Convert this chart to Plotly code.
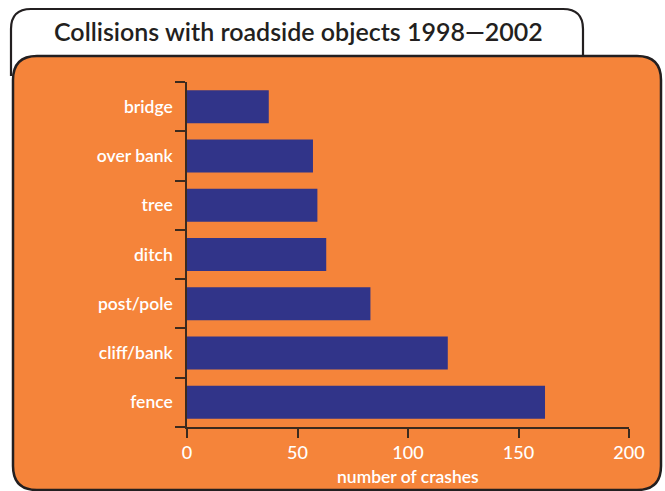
import plotly.graph_objects as go

# Crash counts by roadside object, 1998-2002
objects = ["fence", "cliff/bank", "post/pole", "ditch", "tree", "over bank", "bridge"]
crashes = [162, 118, 83, 63, 59, 57, 37]
x_ticks = [0, 50, 100, 150, 200]

W, H = 665, 491
L, R, T, B = 187, 629, 82, 427  # plot area in pixels

ORANGE = "#F5843A"
NAVY = "#313489"
INK = "#231F20"
FONT = "Lato"


def px(x):
    return (x - L) / (R - L)


def py(y):
    return (B - y) / (B - T)


def rounded_path(x0, y0, x1, y1, r):
    """Rounded rectangle path in paper coords, from pixel bounds."""
    pts = [
        f"M {px(x0 + r)},{py(y0)}",
        f"L {px(x1 - r)},{py(y0)}",
        f"Q {px(x1)},{py(y0)} {px(x1)},{py(y0 + r)}",
        f"L {px(x1)},{py(y1 - r)}",
        f"Q {px(x1)},{py(y1)} {px(x1 - r)},{py(y1)}",
        f"L {px(x0 + r)},{py(y1)}",
        f"Q {px(x0)},{py(y1)} {px(x0)},{py(y1 - r)}",
        f"L {px(x0)},{py(y0 + r)}",
        f"Q {px(x0)},{py(y0)} {px(x0 + r)},{py(y0)}",
        "Z",
    ]
    return " ".join(pts)


def tab_path(x0, y0, x1, y1, r):
    """Open tab outline: sides and rounded top, bottom tucked under the panel."""
    pts = [
        f"M {px(x0)},{py(y1)}",
        f"L {px(x0)},{py(y0 + r)}",
        f"Q {px(x0)},{py(y0)} {px(x0 + r)},{py(y0)}",
        f"L {px(x1 - r)},{py(y0)}",
        f"Q {px(x1)},{py(y0)} {px(x1)},{py(y0 + r)}",
        f"L {px(x1)},{py(y1)}",
    ]
    return " ".join(pts)


fig = go.Figure(
    go.Bar(
        x=crashes,
        y=objects,
        orientation="h",
        marker=dict(color=NAVY, line=dict(width=0)),
        width=0.67,
        hoverinfo="x+y",
    )
)

shapes = [
    # title tab
    dict(type="path", xref="paper", yref="paper",
         path=tab_path(11, 9, 583, 76, 20),
         fillcolor="white", line=dict(color=INK, width=2.2), layer="below"),
    # orange panel
    dict(type="path", xref="paper", yref="paper",
         path=rounded_path(13, 56, 661, 490, 24),
         fillcolor=ORANGE, line=dict(color=INK, width=2.5), layer="below"),
]

fig.update_layout(
    width=W, height=H,
    margin=dict(l=L, r=W - R, t=T, b=H - B, pad=0, autoexpand=False),
    paper_bgcolor="white",
    plot_bgcolor="rgba(0,0,0,0)",
    showlegend=False,
    shapes=shapes,
    bargap=0.33,
    annotations=[
        dict(text="Collisions with roadside objects 1998\u20142002",
             xref="paper", yref="paper", x=px(298), y=py(31),
             xanchor="center", yanchor="middle", showarrow=False,
             font=dict(family=FONT, size=25, color=INK, weight=600)),
        dict(text="number of crashes",
             xref="paper", yref="paper", x=px(408), y=py(476),
             xanchor="center", yanchor="middle", showarrow=False,
             font=dict(family=FONT, size=17.5, color="white", weight=600)),
    ],
    xaxis=dict(
        range=[0, 200], tickvals=x_ticks, ticktext=[str(v) for v in x_ticks],
        showgrid=False, zeroline=False, automargin=False,
        showline=True, linecolor="#3B2A1E", linewidth=1.5,
        ticks="outside", ticklen=9, tickwidth=1.5, tickcolor="#3B2A1E",
        tickfont=dict(family=FONT, size=18, color="white", weight=500),
        fixedrange=True,
    ),
    yaxis=dict(
        categoryorder="array", categoryarray=objects,
        showgrid=False, zeroline=False, automargin=False,
        showline=True, linecolor="#3B2A1E", linewidth=1.5,
        ticks="outside", tickson="boundaries", ticklen=10, tickwidth=1.5,
        tickcolor="#3B2A1E",
        ticklabelstandoff=9,
        tickfont=dict(family=FONT, size=17.5, color="white", weight=600),
        fixedrange=True,
    ),
)

fig.write_html("out.html")
